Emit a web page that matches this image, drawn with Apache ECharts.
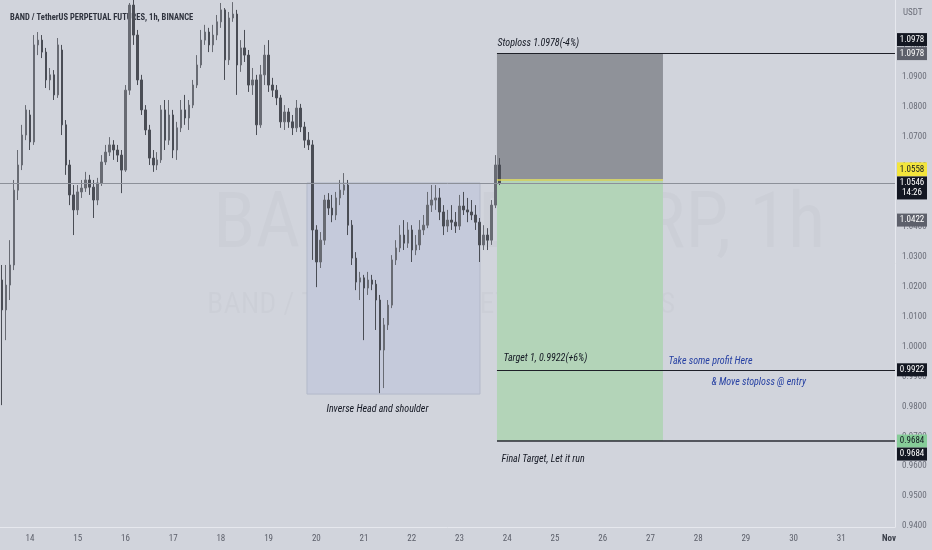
<!DOCTYPE html>
<html><head><meta charset="utf-8">
<script src="https://cdn.jsdelivr.net/npm/echarts@6/dist/echarts.min.js"></script>
<style>html,body{margin:0;padding:0;background:#d1d4dc}#c{width:932px;height:550px}</style>
</head><body><div id="c"></div>
<script>
// ---- data (2-hour candles, BAND/USDT perp) ----
const firstCandleDay = 13 + 10 / 24;   // Oct 13, 10:00 (day-of-month units)
const candleStepDays = 2 / 24;
const openP = [1.0222,1.0122,1.0205,1.0272,1.0522,1.0606,1.0706,1.0773,1.0683,1.1007,
1.1023,1.0983,1.0890,1.0907,1.0840,1.0990,1.0740,1.0606,1.0506,1.0456,
1.0516,1.0529,1.0556,1.0532,1.0489,1.0546,1.0616,1.0649,1.0673,1.0656,
1.0639,1.0589,1.0856,1.1140,1.1040,1.0890,1.0790,1.0723,1.0629,1.0606,
1.0623,1.0790,1.0689,1.0773,1.0656,1.0730,1.0790,1.0763,1.0806,1.0873,
1.0940,1.1023,1.1050,1.1007,1.1040,1.1084,1.1124,1.0957,1.1097,1.1110,
1.0940,1.0997,1.0973,1.0873,1.0890,1.0740,1.0907,1.0973,1.0873,1.0856,
1.0830,1.0750,1.0783,1.0750,1.0730,1.0796,1.0733,1.0689,1.0673,1.0389,
1.0282,1.0355,1.0489,1.0462,1.0439,1.0496,1.0522,1.0539,1.0405,1.0295,
1.0215,1.0229,1.0195,1.0222,1.0208,1.0155,0.9988,1.0072,1.0138,1.0289,
1.0329,1.0372,1.0345,1.0389,1.0322,1.0339,1.0389,1.0405,1.0472,1.0489,
1.0496,1.0449,1.0402,1.0422,1.0415,1.0402,1.0469,1.0456,1.0449,1.0439,
1.0415,1.0339,1.0372,1.0355,1.0472,1.0606];
const closeP = [1.0122,1.0205,1.0272,1.0522,1.0606,1.0706,1.0790,1.0683,1.1007,1.1023,
1.0983,1.0890,1.0907,1.0840,1.1007,1.0740,1.0606,1.0506,1.0456,1.0516,
1.0529,1.0556,1.0532,1.0489,1.0546,1.0616,1.0649,1.0673,1.0656,1.0639,
1.0589,1.0856,1.1140,1.1040,1.0890,1.0790,1.0723,1.0629,1.0606,1.0623,
1.0790,1.0689,1.0773,1.0656,1.0730,1.0790,1.0763,1.0806,1.0873,1.0940,
1.1023,1.1050,1.1007,1.1040,1.1084,1.1124,1.0957,1.1097,1.1110,1.0940,
1.0997,1.0973,1.0873,1.0890,1.0740,1.0907,1.0973,1.0873,1.0856,1.0830,
1.0750,1.0783,1.0750,1.0730,1.0796,1.0733,1.0689,1.0673,1.0389,1.0282,
1.0355,1.0489,1.0462,1.0439,1.0496,1.0522,1.0539,1.0405,1.0295,1.0215,
1.0229,1.0195,1.0222,1.0208,1.0155,0.9988,1.0072,1.0138,1.0289,1.0329,
1.0372,1.0345,1.0389,1.0322,1.0339,1.0389,1.0405,1.0472,1.0489,1.0496,
1.0449,1.0402,1.0422,1.0415,1.0402,1.0469,1.0456,1.0449,1.0439,1.0415,
1.0339,1.0372,1.0355,1.0472,1.0606,1.0546];
const lowP = [0.9804,1.0021,1.0155,1.0255,1.0489,1.0589,1.0689,1.0656,1.0673,1.0973,
1.0963,1.0863,1.0856,1.0823,1.0830,1.0706,1.0573,1.0472,1.0372,1.0439,
1.0496,1.0516,1.0506,1.0429,1.0472,1.0536,1.0606,1.0636,1.0623,1.0616,
1.0512,1.0583,1.0840,1.1007,1.0873,1.0773,1.0706,1.0606,1.0583,1.0589,
1.0613,1.0656,1.0673,1.0629,1.0623,1.0716,1.0740,1.0723,1.0796,1.0863,
1.0930,1.1007,1.0983,1.0983,1.1023,1.1064,1.0890,1.0940,1.1084,1.0840,
1.0917,1.0950,1.0850,1.0840,1.0706,1.0730,1.0873,1.0850,1.0833,1.0806,
1.0730,1.0723,1.0730,1.0706,1.0716,1.0716,1.0663,1.0656,1.0289,1.0198,
1.0262,1.0339,1.0439,1.0415,1.0422,1.0472,1.0506,1.0372,1.0272,1.0188,
1.0155,1.0021,1.0172,1.0188,1.0055,0.9844,0.9861,1.0055,1.0128,1.0272,
1.0315,1.0322,1.0329,1.0282,1.0305,1.0322,1.0372,1.0395,1.0449,1.0456,
1.0422,1.0372,1.0382,1.0389,1.0379,1.0389,1.0439,1.0415,1.0422,1.0389,
1.0282,1.0322,1.0322,1.0339,1.0462,1.0539];
const highP = [1.0272,1.0272,1.0355,1.0556,1.0656,1.0740,1.0806,1.0790,1.1040,1.1050,
1.1040,1.0997,1.0930,1.0923,1.1030,1.1007,1.0756,1.0623,1.0539,1.0539,
1.0556,1.0583,1.0573,1.0556,1.0563,1.0639,1.0673,1.0699,1.0689,1.0673,
1.0656,1.0873,1.1147,1.1157,1.1057,1.0907,1.0806,1.0740,1.0656,1.0649,
1.0806,1.0823,1.0823,1.0790,1.0750,1.0823,1.0840,1.0823,1.0890,1.0973,
1.1057,1.1074,1.1064,1.1074,1.1107,1.1147,1.1130,1.1117,1.1150,1.1124,
1.1023,1.1057,1.0990,1.0930,1.0907,1.0940,1.1007,1.1023,1.0897,1.0873,
1.0840,1.0806,1.0796,1.0773,1.0823,1.0810,1.0750,1.0716,1.0689,1.0405,
1.0382,1.0506,1.0512,1.0506,1.0516,1.0556,1.0579,1.0556,1.0422,1.0315,
1.0249,1.0239,1.0249,1.0239,1.0222,1.0172,1.0095,1.0155,1.0305,1.0355,
1.0405,1.0422,1.0415,1.0405,1.0372,1.0422,1.0439,1.0516,1.0539,1.0539,
1.0529,1.0472,1.0456,1.0472,1.0449,1.0506,1.0516,1.0496,1.0489,1.0472,
1.0429,1.0405,1.0395,1.0489,1.0639,1.0629];

const dayTicks = [14,15,16,17,18,19,20,21,22,23,24,25,26,27,28,29,30,31,32];
const dayLabels = ['14','15','16','17','18','19','20','21','22','23','24','25','26','27','28','29','30','31','Nov'];
const priceTicks = [0.94,0.95,0.96,0.97,0.98,0.99,1.00,1.01,1.02,1.03,1.04,1.05,1.06,1.07,1.08,1.09,1.10];

// trade levels
const stopLevel = 1.0978, entryLevel = 1.0558, lastPrice = 1.0546, target1Level = 0.9922, finalLevel = 0.9684, markLevel = 1.0422;
const lastCountdown = '14:26';
// pattern / trade zones (day units, prices)
const tradeStartDay = 23.785, tradeEndDay = 27.263;
const hsStartDay = 19.804, hsEndDay = 23.429, hsTop = 1.0546, hsBottom = 0.9841;

const xMin = 13.372, xMax = 32.125, yMin = 0.9397, yMax = 1.1157;

// ---- build ----
const candles = openP.map((o, i) => [firstCandleDay + i * candleStepDays, o, closeP[i], lowP[i], highP[i]]);

const NARROW = '"Liberation Sans Narrow","Arial Narrow","Roboto Condensed",Roboto,sans-serif';
const TEXTC = '#131722';

function tag(value, bg, fg, dy, text, h) {
  return {
    coord: [xMax, value], symbol: 'rect', symbolSize: [30, h || 13], symbolOffset: [17, dy],
    itemStyle: { color: bg }, label: { show: true, position: 'inside', formatter: text, color: fg,
      fontSize: 9, fontFamily: NARROW, lineHeight: 10 }
  };
}
function note(day, price, text, color) {
  return {
    coord: [day, price], symbol: 'rect', symbolSize: 1, itemStyle: { color: 'rgba(0,0,0,0)' },
    label: { show: true, position: 'right', distance: 0, formatter: text,
      color: color, fontSize: 10, fontStyle: 'italic', fontFamily: NARROW }
  };
}
const fmt4 = v => v.toFixed(4);
const hline = (x0, x1, v, color, width) =>
  [{ coord: [x0, v], lineStyle: { color: color, width: width, type: 'solid' } }, { coord: [x1, v] }];

const chart = echarts.init(document.getElementById('c'), null, { renderer: 'canvas' });
chart.setOption({
  animation: false,
  backgroundColor: '#d1d4dc',
  title: { text: 'BAND / TetherUS PERPETUAL FUTURES, 1h, BINANCE', left: 5, top: 8, z: 0,
    textStyle: { fontSize: 8.5, fontWeight: 'bold', color: '#2f333e', fontFamily: NARROW } },
  graphic: [
    { type: 'text', left: 213, top: 188, z: 0, silent: true,
      style: { text: 'BANDUSDTPERP, 1h', fill: 'rgba(0,0,0,0.018)', font: '78px ' + NARROW } },
    { type: 'text', left: 207, top: 290, z: 0, silent: true,
      style: { text: 'BAND / TetherUS PERPETUAL FUTURES', fill: 'rgba(0,0,0,0.018)', font: '30px ' + NARROW } },
    { type: 'text', left: 903, top: 8, silent: true,
      style: { text: 'USDT', fill: '#6a6d78', font: '9px ' + NARROW } }
  ],
  grid: { left: 0, right: 37, top: 0, bottom: 23, containLabel: false, outerBoundsMode: 'none' },
  xAxis: {
    type: 'value', min: xMin, max: xMax,
    axisLine: { show: true, lineStyle: { color: '#e6e8ee', width: 1 } },
    axisTick: { show: false }, splitLine: { show: false },
    axisLabel: { customValues: dayTicks, margin: 7, fontSize: 9, color: '#5d606b', fontFamily: NARROW,
      formatter: v => { const k = dayTicks.indexOf(Math.round(v)); const s = k >= 0 ? dayLabels[k] : ''; return isNaN(+s) ? '{b|' + s + '}' : s; },
      rich: { b: { fontWeight: 'bold', color: '#3a3e49', fontSize: 9, fontFamily: NARROW } } }
  },
  yAxis: {
    type: 'value', position: 'right', min: yMin, max: yMax, scale: true,
    axisLine: { show: true, lineStyle: { color: '#e6e8ee', width: 1 } },
    axisTick: { show: false }, splitLine: { show: false },
    axisLabel: { customValues: priceTicks, margin: 7, fontSize: 9, color: '#6a6d78', fontFamily: NARROW, formatter: fmt4 }
  },
  series: [{
    type: 'candlestick', z: 3,
    data: candles, encode: { x: 0, y: [1, 2, 3, 4] },
    barWidth: 2,
    itemStyle: { color: '#686b73', color0: '#4a4d55', borderColor: '#686b73', borderColor0: '#4a4d55', borderWidth: 1 },
    markArea: {
      silent: true,
      data: [
        [{ coord: [tradeStartDay, stopLevel], itemStyle: { color: '#8f9299' } }, { coord: [tradeEndDay, entryLevel] }],
        [{ coord: [tradeStartDay, entryLevel], itemStyle: { color: '#b3d4b8' } }, { coord: [tradeEndDay, finalLevel] }],
        [{ coord: [hsStartDay, hsTop], itemStyle: { color: '#c5cadb', borderColor: '#b3b9ca', borderWidth: 1 } }, { coord: [hsEndDay, hsBottom] }]
      ]
    },
    markLine: {
      silent: true, symbol: ['none', 'none'], label: { show: false },
      data: [
        hline(xMin, xMax, lastPrice, '#8c9099', 1),
        hline(tradeStartDay, xMax, stopLevel, '#1e2028', 1),
        hline(tradeStartDay, tradeEndDay, entryLevel, '#d9cf55', 1.5),
        hline(tradeStartDay, xMax, target1Level, '#1e2028', 1),
        hline(tradeStartDay, xMax, finalLevel, '#2a2d35', 1.5)
      ]
    },
    markPoint: {
      silent: true,
      data: [
        tag(stopLevel, '#131722', '#ffffff', -14, fmt4(stopLevel)),
        tag(stopLevel, '#5d606b', '#ffffff', 0, fmt4(stopLevel)),
        tag(entryLevel, '#f3e53c', '#131722', -10, fmt4(entryLevel), 14),
        tag(lastPrice, '#131722', '#ffffff', 5, fmt4(lastPrice) + '\n' + lastCountdown, 23),
        tag(markLevel, '#5d606b', '#ffffff', 0, fmt4(markLevel)),
        tag(target1Level, '#131722', '#ffffff', 0, fmt4(target1Level)),
        tag(finalLevel, '#86cc98', '#131722', 0, fmt4(finalLevel)),
        tag(finalLevel, '#131722', '#ffffff', 13, fmt4(finalLevel)),
        note(tradeStartDay, 1.1013, 'Stoploss 1.0978(-4%)', TEXTC),
        note(23.91, 0.9961, 'Target 1, 0.9922(+6%)', TEXTC),
        note(27.368, 0.9951, 'Take some profit Here', '#2741a3'),
        note(28.268, 0.9881, '& Move stoploss @ entry', '#2741a3'),
        note(23.87, 0.9621, 'Final Target, Let it run', TEXTC),
        note(20.202, 0.9791, 'Inverse Head and shoulder', TEXTC)
      ]
    }
  }]
});
</script></body></html>
